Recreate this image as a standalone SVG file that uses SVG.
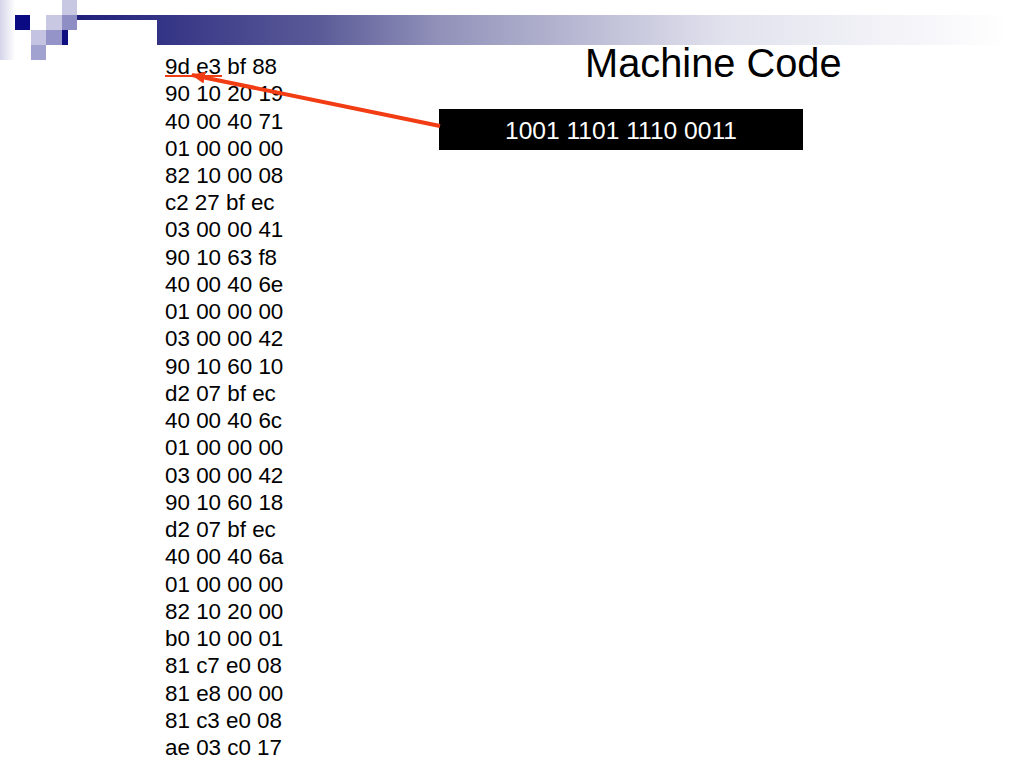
<svg xmlns="http://www.w3.org/2000/svg" width="1024" height="768" viewBox="0 0 1024 768">
<defs>
<linearGradient id="bar" x1="62" y1="0" x2="1010" y2="0" gradientUnits="userSpaceOnUse">
<stop offset="0" stop-color="#1c1c7a"/>
<stop offset="0.27" stop-color="#5a5a98"/>
<stop offset="0.4" stop-color="#9292ba"/>
<stop offset="0.7" stop-color="#e2e2ee"/>
<stop offset="1" stop-color="#ffffff"/>
</linearGradient>
<linearGradient id="side" x1="0" y1="0" x2="15" y2="0" gradientUnits="userSpaceOnUse">
<stop offset="0" stop-color="#d4d4ea"/>
<stop offset="1" stop-color="#ffffff"/>
</linearGradient>
<marker id="ah" markerWidth="14" markerHeight="12" refX="13" refY="6" orient="auto" markerUnits="userSpaceOnUse">
<path d="M0,0 L14,6 L0,12 z" fill="#f23c14"/>
</marker>
<style>
.hex{font-family:"Liberation Sans",Arial,sans-serif;font-size:22.4px;fill:#000}
.title{font-family:"Liberation Sans",Arial,sans-serif;font-size:39.8px;fill:#000}
.bin{font-family:"Liberation Sans",Arial,sans-serif;font-size:24.6px;fill:#fff}
</style>
</defs>
<rect width="1024" height="768" fill="#fff"/>
<g id="decoration">
<rect x="0" y="0" width="15" height="60" fill="url(#side)"/>
<rect x="62" y="15" width="948" height="30" fill="url(#bar)"/>
<rect x="68" y="20" width="89" height="25" fill="#fff"/>
<rect x="15" y="15" width="15" height="15" fill="#0a0a82"/>
<rect x="46" y="15" width="16" height="15" fill="#c8c8e2"/>
<rect x="62" y="0" width="15" height="15" fill="#c8c8e2"/>
<rect x="62" y="15" width="15" height="15" fill="#8e8ec4"/>
<rect x="31" y="30" width="15" height="15" fill="#c4c4e2"/>
<rect x="46" y="30" width="16" height="15" fill="#9494c8"/>
<rect x="62" y="30" width="6" height="15" fill="#101080"/>
<rect x="31" y="45" width="15" height="15" fill="#a2a2d0"/>
</g>
<g id="title"><text class="title" x="585" y="77">Machine Code</text></g>
<g id="hexdump">
<text class="hex" x="165" y="74">9d e3 bf 88</text>
<text class="hex" x="165" y="101.2">90 10 20 19</text>
<text class="hex" x="165" y="128.5">40 00 40 71</text>
<text class="hex" x="165" y="155.7">01 00 00 00</text>
<text class="hex" x="165" y="183">82 10 00 08</text>
<text class="hex" x="165" y="210.2">c2 27 bf ec</text>
<text class="hex" x="165" y="237.4">03 00 00 41</text>
<text class="hex" x="165" y="264.7">90 10 63 f8</text>
<text class="hex" x="165" y="291.9">40 00 40 6e</text>
<text class="hex" x="165" y="319.2">01 00 00 00</text>
<text class="hex" x="165" y="346.4">03 00 00 42</text>
<text class="hex" x="165" y="373.6">90 10 60 10</text>
<text class="hex" x="165" y="400.9">d2 07 bf ec</text>
<text class="hex" x="165" y="428.1">40 00 40 6c</text>
<text class="hex" x="165" y="455.4">01 00 00 00</text>
<text class="hex" x="165" y="482.6">03 00 00 42</text>
<text class="hex" x="165" y="509.8">90 10 60 18</text>
<text class="hex" x="165" y="537.1">d2 07 bf ec</text>
<text class="hex" x="165" y="564.3">40 00 40 6a</text>
<text class="hex" x="165" y="591.6">01 00 00 00</text>
<text class="hex" x="165" y="618.8">82 10 20 00</text>
<text class="hex" x="165" y="646">b0 10 00 01</text>
<text class="hex" x="165" y="673.3">81 c7 e0 08</text>
<text class="hex" x="165" y="700.5">81 e8 00 00</text>
<text class="hex" x="165" y="727.8">81 c3 e0 08</text>
<text class="hex" x="165" y="755">ae 03 c0 17</text>
</g>
<g id="binary-box">
<rect x="439" y="109" width="364" height="41" fill="#000"/>
<text class="bin" x="621" y="139" text-anchor="middle">1001 1101 1110 0011</text>
</g>
<g id="connectors">
<line x1="165" y1="76" x2="222" y2="76" stroke="#f23c14" stroke-width="2"/>
<line x1="440" y1="126" x2="192" y2="75" stroke="#f23c14" stroke-width="4" marker-end="url(#ah)"/>
</g>
</svg>
